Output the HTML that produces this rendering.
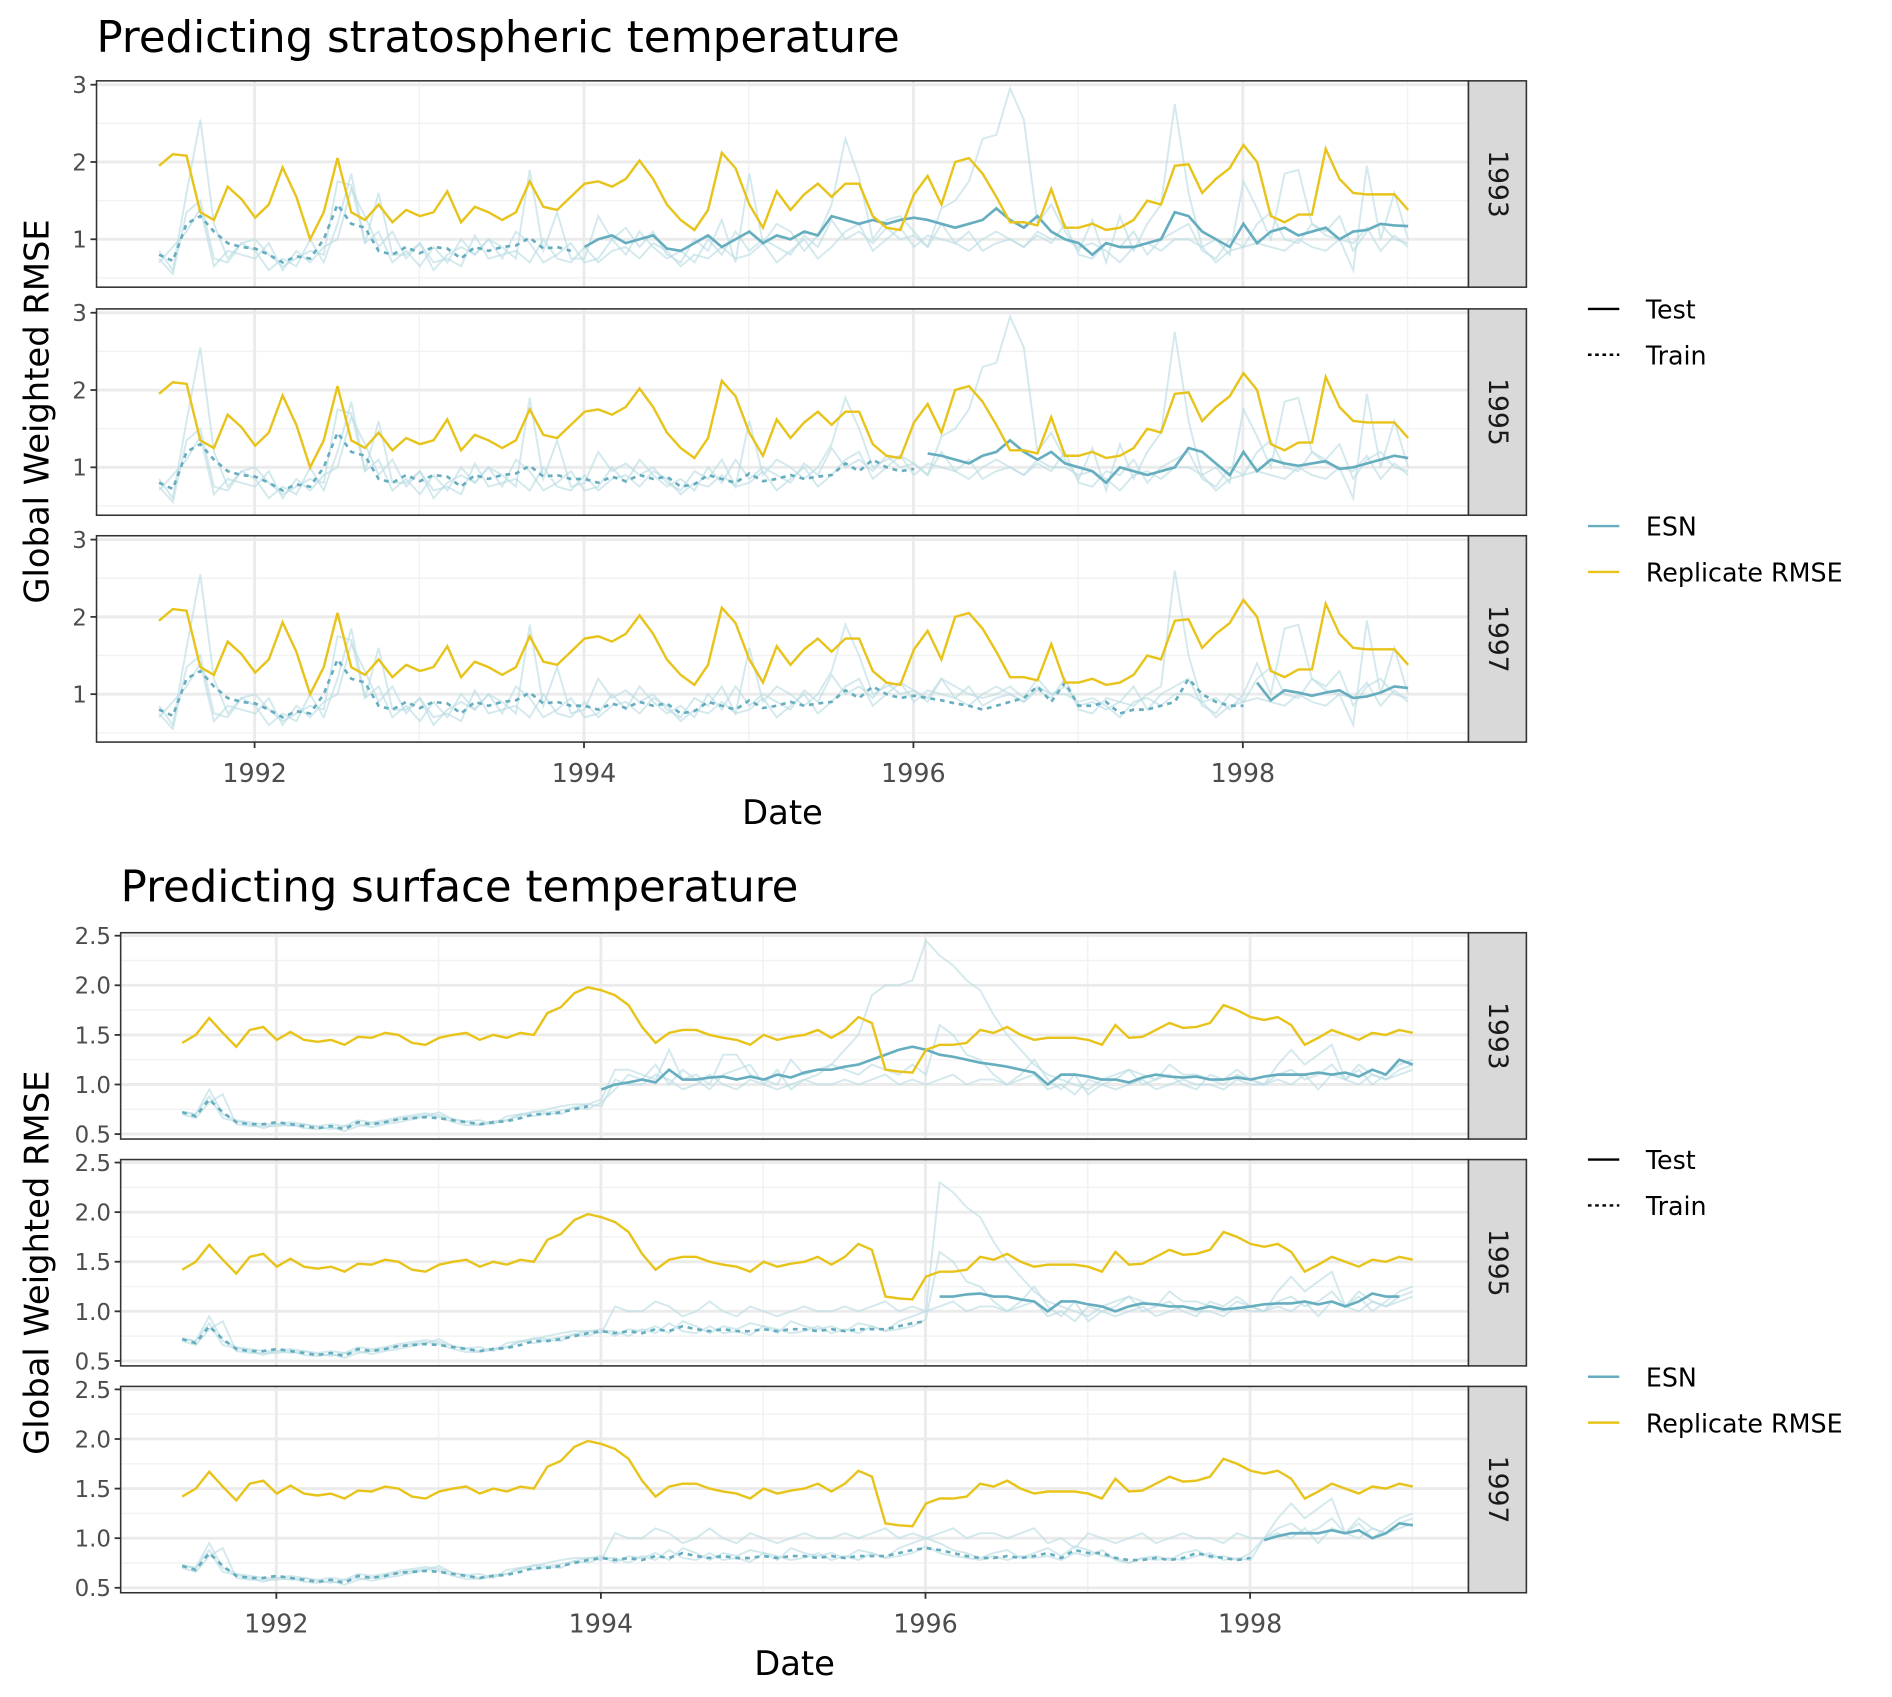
<!DOCTYPE html>
<html><head><meta charset="utf-8"><style>
html,body{margin:0;padding:0;background:#fff;}
svg{display:block;font-family:"DejaVu Sans","Liberation Sans",sans-serif;}
</style></head><body>
<svg id="fig" width="1892" height="1697" viewBox="0 0 1568 1406.4" preserveAspectRatio="none" xmlns="http://www.w3.org/2000/svg"></svg>
<script>
// ---------- data ----------
const startYear = 1991.42;
// Stratospheric
const stratReplicate = [1.95,2.1,2.08,1.35,1.25,1.68,1.52,1.28,1.45,1.93,1.55,1.0,1.35,2.05,1.35,1.25,1.45,1.22,1.38,1.3,1.35,1.62,1.22,1.42,1.35,1.25,1.35,1.75,1.42,1.38,1.55,1.72,1.75,1.68,1.78,2.02,1.78,1.45,1.25,1.12,1.38,2.12,1.92,1.45,1.15,1.62,1.38,1.58,1.72,1.55,1.72,1.72,1.3,1.15,1.12,1.58,1.82,1.45,2.0,2.05,1.85,1.55,1.22,1.22,1.18,1.65,1.15,1.15,1.2,1.12,1.15,1.25,1.5,1.45,1.95,1.97,1.6,1.78,1.92,2.22,2.0,1.3,1.22,1.32,1.32,2.17,1.78,1.6,1.58,1.58,1.58,1.38];
const stratTrain = [0.8,0.72,1.2,1.3,1.1,0.95,0.9,0.88,0.8,0.7,0.78,0.75,1.0,1.45,1.2,1.15,0.85,0.8,0.9,0.82,0.9,0.88,0.75,0.9,0.85,0.9,0.92,1.02,0.88,0.9,0.85,0.85,0.8,0.88,0.82,0.9,0.85,0.88,0.75,0.78,0.9,0.85,0.8,0.92,0.82,0.85,0.9,0.85,0.88,0.9,1.05,0.95,1.1,1.0,0.95,0.98,0.95,0.92,0.88,0.85,0.8,0.85,0.9,0.95,1.1,0.9,1.15,0.85,0.85,0.9,0.75,0.8,0.8,0.85,0.9,1.2,1.0,0.9,0.85,0.85,0.88,0.9,0.9,0.92,0.95,0.95,0.92,0.95,1.0,1.05,1.0,1.0];
const stratTest1993 = [0.9,1.0,1.05,0.95,1.0,1.05,0.88,0.85,0.95,1.05,0.9,1.0,1.1,0.95,1.05,1.0,1.1,1.05,1.3,1.25,1.2,1.25,1.2,1.25,1.28,1.25,1.2,1.15,1.2,1.25,1.4,1.25,1.15,1.3,1.1,1.0,0.95,0.8,0.95,0.9,0.9,0.95,1.0,1.35,1.3,1.1,1.0,0.9,1.2,0.95,1.1,1.15,1.05,1.1,1.15,1.0,1.1,1.12,1.2,1.18,1.17];
const stratTest1995 = [1.18,1.15,1.1,1.05,1.15,1.2,1.35,1.2,1.1,1.2,1.05,1.0,0.95,0.8,1.0,0.95,0.9,0.95,1.0,1.25,1.2,1.05,0.9,1.2,0.95,1.1,1.05,1.02,1.05,1.08,0.98,1.0,1.05,1.1,1.15,1.12];
const stratTest1997 = [1.15,0.92,1.05,1.02,0.98,1.02,1.05,0.95,0.97,1.02,1.1,1.08];
const stratRepA = [0.95,0.6,1.7,2.75,1.3,0.7,1.0,1.1,0.85,0.6,0.7,0.9,0.75,1.9,1.8,0.9,1.8,0.8,0.75,1.0,0.55,0.8,0.95,0.75,1.1,0.9,0.7,2.05,0.8,1.45,0.7,0.75,1.3,1.0,1.15,0.9,1.1,0.8,0.7,1.0,0.85,1.25,0.7,1.85,0.95,1.2,1.1,0.85,1.05,1.45,2.3,1.8,1.0,1.25,1.3,1.1,0.9,1.4,1.5,1.75,2.3,2.35,2.95,2.55,1.2,1.45,1.1,0.85,1.25,0.7,1.3,0.85,1.2,1.45,2.75,1.6,0.9,1.0,0.8,1.75,1.4,1.0,1.85,1.9,1.2,1.05,1.0,0.6,1.95,1.0,1.6,1.0];
const stratRepB = [0.75,0.55,1.35,1.5,0.75,0.7,0.95,0.85,0.6,0.75,0.65,1.0,0.7,1.2,1.85,0.95,1.1,0.7,0.85,0.65,0.9,0.7,1.0,0.8,1.0,0.75,1.1,0.95,0.7,0.8,0.95,0.7,0.75,1.0,0.8,1.1,0.9,0.75,0.85,0.7,1.0,0.8,1.1,0.85,1.0,0.9,0.8,1.05,0.9,1.25,1.0,1.1,0.95,1.15,1.0,1.05,0.9,1.2,0.95,0.85,1.0,1.1,1.0,0.9,1.05,0.95,1.2,0.8,0.75,0.95,0.9,1.1,0.8,1.0,1.1,1.2,0.85,0.75,1.0,0.9,1.2,1.35,1.0,0.95,1.2,1.1,1.3,0.85,1.1,1.2,1.0,0.95];
const stratRepC = [0.7,0.9,1.1,1.4,0.65,0.85,0.8,0.75,0.95,0.6,0.85,0.7,0.9,1.0,1.65,1.3,0.9,1.1,0.75,0.95,0.7,0.75,0.65,1.05,0.75,0.8,0.85,0.7,1.0,0.75,0.7,0.9,0.7,0.85,0.9,0.75,0.95,0.85,0.65,0.8,0.75,0.9,0.75,0.8,0.95,0.7,0.85,1.0,0.75,0.9,1.1,1.2,0.85,1.0,1.15,0.9,1.05,1.0,0.95,1.1,0.85,0.95,1.0,0.9,1.1,1.0,1.0,0.9,0.95,0.85,0.7,0.9,0.95,0.85,1.0,1.0,0.9,0.7,0.85,0.9,0.95,0.9,0.85,1.0,0.9,0.85,1.0,0.95,1.15,0.85,1.05,0.9];
const stratTrainRep = [0.85,0.6,1.6,2.55,1.2,0.75,0.95,1.0,0.8,0.65,0.75,0.85,0.8,1.75,1.7,0.95,1.6,0.8,0.8,0.95,0.6,0.8,0.9,0.8,1.0,0.9,0.75,1.9,0.85,1.35,0.75,0.8,1.2,0.95,1.05,0.9,1.0,0.8,0.7,0.95,0.85,1.1,0.75,1.6,0.9,1.1,1.0,0.85,1.0,1.3,1.9,1.5,1.0,1.1,1.15,1.05,0.95,1.2,1.1,1.0,0.95,1.0,1.1,0.95,1.2,1.0,1.1,0.85,0.9,0.8,0.9,0.85,1.0,1.1,2.6,1.5,0.9,0.95,0.8,1.0,1.0,0.95,1.0,1.05,1.0,0.95,1.0,0.9,1.05,1.0,1.1,1.0];
// Surface
const surfReplicate = [1.42,1.5,1.67,1.52,1.38,1.55,1.58,1.45,1.53,1.45,1.43,1.45,1.4,1.48,1.47,1.52,1.5,1.42,1.4,1.47,1.5,1.52,1.45,1.5,1.47,1.52,1.5,1.72,1.78,1.92,1.98,1.95,1.9,1.8,1.58,1.42,1.52,1.55,1.55,1.5,1.47,1.45,1.4,1.5,1.45,1.48,1.5,1.55,1.47,1.55,1.68,1.62,1.15,1.13,1.12,1.35,1.4,1.4,1.42,1.55,1.52,1.58,1.5,1.45,1.47,1.47,1.47,1.45,1.4,1.6,1.47,1.48,1.55,1.62,1.57,1.58,1.62,1.8,1.75,1.68,1.65,1.68,1.6,1.4,1.47,1.55,1.5,1.45,1.52,1.5,1.55,1.52];
const surfTrain = [0.72,0.68,0.85,0.72,0.62,0.6,0.6,0.62,0.6,0.58,0.56,0.58,0.55,0.62,0.6,0.62,0.65,0.66,0.67,0.66,0.64,0.62,0.6,0.62,0.63,0.66,0.7,0.7,0.72,0.75,0.78,0.8,0.78,0.8,0.78,0.82,0.8,0.85,0.82,0.8,0.82,0.8,0.8,0.82,0.8,0.82,0.82,0.8,0.82,0.8,0.82,0.82,0.82,0.85,0.88,0.9,0.88,0.85,0.82,0.8,0.8,0.82,0.8,0.82,0.85,0.8,0.88,0.85,0.85,0.8,0.78,0.78,0.8,0.78,0.8,0.85,0.82,0.8,0.78,0.8,0.82,0.85,0.85,0.88,0.9,0.9,0.92,0.95,1.0,1.05,1.08,1.1];
const surfTest1993 = [0.95,1.0,1.02,1.05,1.02,1.15,1.05,1.05,1.07,1.08,1.05,1.08,1.05,1.1,1.07,1.12,1.15,1.15,1.18,1.2,1.25,1.3,1.35,1.38,1.35,1.3,1.28,1.25,1.22,1.2,1.18,1.15,1.12,1.0,1.1,1.1,1.08,1.05,1.05,1.02,1.07,1.1,1.08,1.07,1.08,1.05,1.05,1.07,1.05,1.08,1.1,1.1,1.1,1.12,1.1,1.12,1.08,1.15,1.1,1.25,1.2];
const surfTest1995 = [1.15,1.15,1.17,1.18,1.15,1.15,1.12,1.1,1.0,1.1,1.1,1.07,1.05,1.0,1.05,1.08,1.07,1.05,1.05,1.02,1.05,1.02,1.03,1.05,1.07,1.08,1.08,1.1,1.07,1.1,1.05,1.1,1.18,1.15,1.15];
const surfTest1997 = [0.98,1.02,1.05,1.05,1.05,1.08,1.05,1.08,1.0,1.05,1.15,1.13];
const surfRepA = [0.7,0.72,0.98,0.7,0.65,0.62,0.62,0.6,0.62,0.6,0.58,0.6,0.6,0.65,0.62,0.65,0.68,0.7,0.72,0.7,0.66,0.62,0.6,0.64,0.65,0.7,0.75,0.72,0.75,0.78,0.82,0.85,1.15,1.15,1.1,1.05,1.35,1.05,1.1,1.0,1.3,1.3,1.1,1.05,1.0,1.25,1.1,1.15,1.2,1.35,1.5,1.9,2.0,2.0,2.05,2.45,2.3,2.2,2.05,1.95,1.7,1.5,1.35,1.2,1.1,1.05,1.0,0.95,1.05,1.1,1.15,1.1,1.05,1.2,1.1,1.1,1.05,1.0,1.1,1.05,1.0,1.1,1.15,1.05,1.1,1.2,1.05,1.15,1.0,1.1,1.2,1.25];
const surfRepB = [0.68,0.65,0.8,0.92,0.6,0.57,0.58,0.58,0.6,0.56,0.54,0.57,0.52,0.58,0.6,0.63,0.66,0.68,0.7,0.68,0.62,0.58,0.58,0.62,0.65,0.72,0.68,0.72,0.7,0.78,0.75,0.82,0.95,1.1,1.05,1.2,1.0,1.15,1.05,0.95,1.1,1.15,1.2,1.0,1.15,0.95,1.05,1.1,1.2,1.15,1.1,1.2,1.15,1.1,1.2,1.1,1.6,1.5,1.3,1.25,1.1,1.0,1.1,1.25,1.05,0.95,1.1,0.9,1.0,1.05,1.15,1.0,1.05,1.1,1.0,0.95,1.1,1.05,1.15,1.05,1.0,1.05,1.0,1.1,0.95,1.1,1.05,1.2,1.1,1.05,1.15,1.2];
const surfRepC = [0.73,0.7,0.88,0.66,0.63,0.6,0.56,0.6,0.58,0.6,0.57,0.55,0.58,0.6,0.57,0.6,0.62,0.65,0.68,0.72,0.65,0.63,0.64,0.6,0.68,0.7,0.72,0.75,0.78,0.8,0.8,0.78,1.05,1.0,1.0,1.1,1.05,0.95,1.0,1.1,1.0,0.95,1.05,1.0,0.95,1.0,1.05,1.0,1.0,1.05,1.0,1.05,1.1,1.0,1.05,1.0,1.05,1.1,1.0,1.05,1.05,1.0,1.05,1.1,0.95,1.0,0.9,1.05,1.0,0.95,1.0,1.05,0.95,1.0,1.05,1.0,1.0,0.95,1.05,1.0,1.0,1.2,1.35,1.2,1.3,1.4,1.05,1.0,1.1,1.05,1.1,1.15];
const surfTrainRepA = [0.72,0.7,0.95,0.7,0.64,0.62,0.6,0.6,0.62,0.6,0.58,0.6,0.58,0.64,0.62,0.64,0.67,0.69,0.71,0.69,0.65,0.62,0.6,0.63,0.64,0.69,0.73,0.72,0.74,0.77,0.8,0.82,0.75,0.82,0.8,0.85,0.78,0.9,0.85,0.78,0.85,0.82,0.88,0.85,0.78,0.9,0.85,0.82,0.85,0.8,0.88,0.85,0.8,0.9,0.95,1.0,0.95,0.88,0.85,0.8,0.85,0.88,0.8,0.85,0.9,0.82,0.92,0.88,0.82,0.8,0.75,0.8,0.82,0.78,0.85,0.88,0.8,0.82,0.78,0.85,0.9,0.88,0.9,0.92,0.95,0.95,0.98,1.0,1.05,1.1,1.12,1.15];
const surfTrainRepB = [0.7,0.66,0.82,0.9,0.6,0.58,0.58,0.58,0.6,0.56,0.55,0.57,0.53,0.58,0.6,0.62,0.65,0.67,0.69,0.67,0.62,0.59,0.59,0.61,0.64,0.7,0.68,0.71,0.7,0.77,0.75,0.8,0.8,0.75,0.82,0.78,0.88,0.8,0.78,0.85,0.78,0.8,0.76,0.85,0.82,0.78,0.8,0.85,0.78,0.82,0.78,0.85,0.8,0.82,0.85,0.92,0.85,0.82,0.8,0.78,0.82,0.78,0.82,0.8,0.82,0.78,0.85,0.82,0.88,0.78,0.75,0.8,0.78,0.8,0.78,0.82,0.85,0.78,0.8,0.78,0.85,0.9,0.88,0.9,0.95,1.0,0.95,1.0,1.05,1.1,1.05,1.1];
const panelYears = ["1993","1995","1997"];
const splitIndex = [31,56,80];
const xTicks = [1992,1994,1996,1998];
const stratYTicks = [1,2,3];
const surfYTicks = [0.5,1.0,1.5,2.0,2.5];

// ---------- rendering ----------
const svg = document.getElementById('fig');
const NS = 'http://www.w3.org/2000/svg';
function mk(tag, attrs, parent){const e=document.createElementNS(NS,tag);for(const k in attrs)e.setAttribute(k,attrs[k]);(parent||svg).appendChild(e);return e;}
const ESN='#66aebf', YEL='#e8c31a', FAINT='#bcdde4';

function drawChart(cfg){
  const g = mk('g',{});
  
  
  const t = mk('text',{x:cfg.titleX,y:cfg.titleY,'font-size':36,fill:'#000'},g);
  t.textContent = cfg.title;
  
  
  const xs = v => cfg.x0 + (v - cfg.xv0) * cfg.xk;
  const L = cfg.left, R = 1217;
  for(let p=0;p<3;p++){
    const top = cfg.tops[p], bot = top + cfg.h;
    const ys = v => bot - (v - cfg.ymin) / (cfg.ymax - cfg.ymin) * cfg.h;
    const pg = mk('g',{},g);
    
    
    mk('rect',{x:L,y:top,width:R-L,height:cfg.h,fill:'#fff'},pg);
    for(let k=Math.ceil(cfg.ymin/cfg.minorStep); k*cfg.minorStep<=cfg.ymax; k++){
      const yy=k*cfg.minorStep;
      mk('line',{x1:L,x2:R,y1:ys(yy),y2:ys(yy),stroke:'#f2f2f2','stroke-width':1.2},pg);
    }
    for(let yr=1991;yr<=1999;yr+=2){const x=xs(yr); if(x>L&&x<R) mk('line',{x1:x,x2:x,y1:top,y2:bot,stroke:'#f2f2f2','stroke-width':1.2},pg);}
    cfg.yTicks.forEach(v=>{
      mk('line',{x1:L,x2:R,y1:ys(v),y2:ys(v),stroke:'#ebebeb','stroke-width':2.4},pg);
      mk('line',{x1:L-5,x2:L,y1:ys(v),y2:ys(v),stroke:'#333','stroke-width':1.5},pg);
      const tl = mk('text',{x:L-8,y:ys(v)+7,'font-size':19,fill:'#4d4d4d','text-anchor':'end'},pg);
      tl.textContent = cfg.yFmt(v);
      
      
    });
    xTicks.forEach(v=>mk('line',{x1:xs(v),x2:xs(v),y1:top,y2:bot,stroke:'#ebebeb','stroke-width':2.4},pg));
    const path = (arr, off) => arr.map((v,i)=>(i?'L':'M')+xs(startYear+(i+off)/12).toFixed(1)+','+ys(v).toFixed(1)).join('');
    const sp = splitIndex[p];
    cfg.reps.forEach((arr,k)=>{
      const pre = cfg.trainReps[k];
      const vals = arr.map((v,i)=> i < sp ? pre[i] : v);
      const r = mk('path',{d:path(vals,0),fill:'none',stroke:FAINT,'stroke-width':1.6,opacity:0.65},pg);
      
      
    });
    const tr = mk('path',{d:path(cfg.train.slice(0,sp),0),fill:'none',stroke:ESN,'stroke-width':2.2,'stroke-dasharray':'4 4'},pg);
    
    
    const te = mk('path',{d:path(cfg.tests[p],sp),fill:'none',stroke:ESN,'stroke-width':2.2},pg);
    
    
    const ye = mk('path',{d:path(cfg.rep,0),fill:'none',stroke:YEL,'stroke-width':2},pg);
    
    
    mk('rect',{x:L,y:top,width:R-L,height:cfg.h,fill:'none',stroke:'#333','stroke-width':1.3},pg);
    const st = mk('rect',{x:R,y:top,width:48,height:cfg.h,fill:'#d9d9d9',stroke:'#333','stroke-width':1.3},pg);
    
    
    const sx = R+24, sy = top+cfg.h/2;
    const stt = mk('text',{x:sx,y:sy,'font-size':22,fill:'#1a1a1a','text-anchor':'middle','dominant-baseline':'central',transform:`rotate(90 ${sx} ${sy})`},pg);
    stt.textContent = panelYears[p];
    
    
  }
  const lastBot = cfg.tops[2]+cfg.h;
  xTicks.forEach(v=>{
    mk('line',{x1:xs(v),x2:xs(v),y1:lastBot,y2:lastBot+5,stroke:'#333','stroke-width':1.5},g);
    const tl = mk('text',{x:xs(v),y:lastBot+33,'font-size':21,fill:'#4d4d4d','text-anchor':'middle'},g);
    tl.textContent = v;
    
    
  });
  const xt = mk('text',{x:(L+R)/2,y:lastBot+68,'font-size':28,fill:'#000','text-anchor':'middle'},g);
  xt.textContent = 'Date';
  
  
  const cy = (cfg.tops[0]+lastBot)/2, cx = 40;
  const yt = mk('text',{x:cx,y:cy,'font-size':28,fill:'#000','text-anchor':'middle',transform:`rotate(-90 ${cx} ${cy})`},g);
  yt.textContent = 'Global Weighted RMSE';
  
  
  const lg = mk('g',{},g);
  
  
  const items = [['Test','#000',null,cfg.legY[0]],['Train','#000','3 3',cfg.legY[1]],['ESN',ESN,null,cfg.legY[2]],['Replicate RMSE',YEL,null,cfg.legY[3]]];
  items.forEach(it=>{
    const a = {x1:1316,x2:1342,y1:it[3],y2:it[3],stroke:it[1],'stroke-width':2};
    if(it[2]) a['stroke-dasharray']=it[2];
    mk('line',a,lg);
    const tx = mk('text',{x:1364,y:it[3]+8,'font-size':21,fill:'#000'},lg);
    tx.textContent = it[0];
    
    
  });
}

drawChart({name:'stratospheric-chart',title:'Predicting stratospheric temperature',titleX:80,titleY:43,
  left:80,tops:[67,256,444],h:171,ymin:0.38,ymax:3.05,minorStep:0.5,yTicks:stratYTicks,yFmt:v=>String(v),
  x0:211,xv0:1992,xk:136.5,rep:stratReplicate,train:stratTrain,tests:[stratTest1993,stratTest1995,stratTest1997],
  reps:[stratRepA,stratRepB,stratRepC],trainReps:[stratTrainRep,stratRepB,stratRepC],legY:[256,294,436,474]});
drawChart({name:'surface-chart',title:'Predicting surface temperature',titleX:100,titleY:747,
  left:100,tops:[773,961,1149],h:171,ymin:0.45,ymax:2.53,minorStep:0.25,yTicks:surfYTicks,yFmt:v=>v.toFixed(1),
  x0:229,xv0:1992,xk:134.5,rep:surfReplicate,train:surfTrain,tests:[surfTest1993,surfTest1995,surfTest1997],
  reps:[surfRepA,surfRepB,surfRepC],trainReps:[surfTrainRepA,surfTrainRepB,surfRepC],legY:[961,999,1141,1179]});
</script>
</body></html>
